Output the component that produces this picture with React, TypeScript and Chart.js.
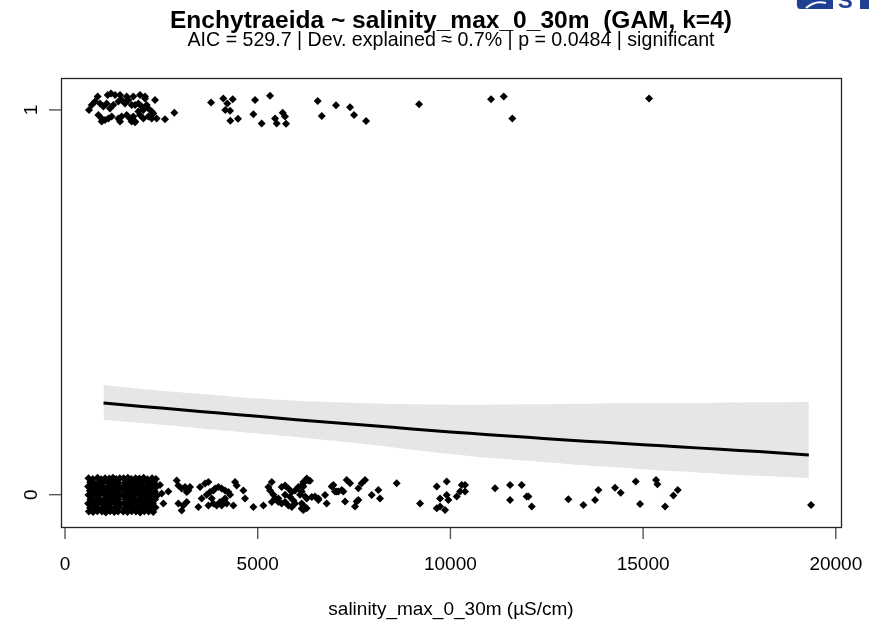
import React, { useEffect, useRef } from 'react';
import { Chart, registerables } from 'chart.js';

Chart.register(...registerables);

const TITLE = 'Enchytraeida ~ salinity_max_0_30m  (GAM, k=4)';
const SUBTITLE = 'AIC = 529.7 | Dev. explained \u2248 0.7% | p = 0.0484 | significant';
const X_LABEL = 'salinity_max_0_30m (\u00b5S/cm)';
const X_TICKS = [0, 5000, 10000, 15000, 20000];
const Y_TICKS = [0, 1];
const X_MIN = -104;
const X_MAX = 20135;
const Y_MIN = -0.084;
const Y_MAX = 1.083;

const curveX = [1000, 2000, 3000, 4000, 5000, 6000, 7000, 8000, 9000, 10000, 11000, 12000, 13000, 14000, 15000, 16000, 17000, 18000, 19300];
const curveFit = [0.238, 0.229, 0.221, 0.212, 0.204, 0.195, 0.187, 0.179, 0.171, 0.163, 0.156, 0.149, 0.142, 0.136, 0.130, 0.124, 0.118, 0.112, 0.103];
const curveLo = [0.194, 0.186, 0.177, 0.168, 0.159, 0.150, 0.140, 0.129, 0.117, 0.106, 0.096, 0.088, 0.080, 0.073, 0.066, 0.060, 0.054, 0.049, 0.043];
const curveHi = [0.285, 0.275, 0.266, 0.258, 0.250, 0.244, 0.240, 0.237, 0.235, 0.234, 0.234, 0.235, 0.236, 0.237, 0.238, 0.238, 0.239, 0.240, 0.241];

const presentPoints: [number, number][] = [
  [848, 1.035], [1107, 1.039], [1194, 1.043], [1298, 1.039], [1427, 1.039], [1600, 1.035], [1773, 1.035], [1946, 1.039], [2076, 1.035], [2076, 1.030],
  [692, 1.013], [623, 1.0], [779, 1.022], [908, 1.017], [995, 1.009], [1081, 1.017], [1168, 1.004], [1254, 1.013], [1384, 1.022], [1471, 1.026],
  [1557, 1.017], [1644, 1.026], [1730, 1.013], [1817, 1.013], [1903, 1.017], [1990, 1.009], [2119, 1.013], [2033, 1.0], [2163, 1.004], [2249, 0.996], [2335, 1.026],
  [865, 0.987], [952, 0.978], [1125, 0.978], [1211, 0.983], [1384, 0.978], [1471, 0.983], [1600, 0.987], [1687, 0.978], [1773, 0.983], [1817, 0.970],
  [1946, 0.987], [2033, 0.978], [2163, 0.983], [2249, 0.978], [2379, 0.978], [2292, 0.991], [1903, 0.996],
  [952, 0.970], [1038, 0.974], [1427, 0.970], [1730, 0.970], [1817, 0.968],
  [2595, 0.976], [2836, 0.993],
  [3789, 1.019], [4108, 1.030], [4351, 1.028], [4212, 1.017], [4160, 1.0], [4282, 0.998], [4290, 0.972], [4489, 0.977],
  [4931, 1.026], [5320, 1.037], [4887, 0.989], [5104, 0.965], [5450, 0.978], [5493, 0.965], [5649, 0.993], [5709, 0.983], [5735, 0.964],
  [6557, 1.023], [6661, 0.984], [7032, 1.012], [7396, 1.007], [7500, 0.987], [7811, 0.971],
  [9186, 1.015], [11055, 1.028], [11384, 1.035], [11607, 0.978], [15155, 1.030],
];

const absentPoints: [number, number][] = [
  [610, 0.043], [720, 0.041], [845, 0.044], [935, 0.040], [1040, 0.043], [1150, 0.042], [1245, 0.044], [1330, 0.041], [1420, 0.043],
  [655, 0.032], [765, 0.030], [880, 0.033], [990, 0.031], [1095, 0.034], [1200, 0.030], [1290, 0.032], [1395, 0.031],
  [600, 0.021], [700, 0.019], [815, 0.022], [940, 0.020], [1025, 0.018], [1130, 0.022], [1250, 0.020], [1350, 0.021], [1430, 0.019],
  [645, 0.010], [770, 0.009], [860, 0.011], [975, 0.008], [1080, 0.012], [1185, 0.010], [1300, 0.009], [1400, 0.011],
  [610, -0.001], [710, 0.001], [830, -0.002], [910, 0.000], [1050, -0.001], [1140, 0.002], [1235, -0.002], [1340, 0.000], [1420, -0.001],
  [660, -0.012], [750, -0.014], [880, -0.011], [1000, -0.013], [1105, -0.012], [1210, -0.010], [1310, -0.014], [1390, -0.012],
  [600, -0.023], [720, -0.021], [825, -0.024], [950, -0.022], [1030, -0.025], [1160, -0.023], [1265, -0.021], [1360, -0.024], [1430, -0.022],
  [650, -0.034], [780, -0.033], [870, -0.036], [990, -0.034], [1090, -0.032], [1195, -0.035], [1290, -0.034], [1400, -0.033],
  [620, -0.044], [730, -0.045], [840, -0.043], [960, -0.044], [1060, -0.046], [1170, -0.043], [1280, -0.045], [1375, -0.044],
  [1520, 0.043], [1630, 0.044], [1720, 0.041], [1830, 0.043], [1930, 0.042], [2040, 0.044], [2140, 0.040], [2260, 0.043], [2360, 0.041],
  [1560, 0.031], [1670, 0.033], [1780, 0.030], [1880, 0.032], [1990, 0.031], [2090, 0.034], [2200, 0.030], [2310, 0.032],
  [1510, 0.020], [1610, 0.022], [1730, 0.019], [1840, 0.021], [1940, 0.020], [2050, 0.018], [2150, 0.022], [2250, 0.020], [2380, 0.021],
  [1550, 0.009], [1660, 0.011], [1770, 0.008], [1890, 0.010], [2000, 0.012], [2100, 0.009], [2210, 0.011], [2330, 0.008],
  [1500, -0.001], [1620, 0.001], [1720, -0.002], [1830, 0.000], [1950, -0.001], [2060, 0.002], [2160, -0.001], [2270, 0.000], [2390, -0.002],
  [1570, -0.012], [1680, -0.013], [1790, -0.011], [1900, -0.014], [2010, -0.012], [2110, -0.010], [2220, -0.013], [2340, -0.012],
  [1520, -0.023], [1630, -0.022], [1740, -0.024], [1850, -0.021], [1960, -0.023], [2070, -0.025], [2170, -0.022], [2280, -0.023],
  [1560, -0.034], [1670, -0.033], [1790, -0.035], [1890, -0.034], [2000, -0.032], [2120, -0.035], [2230, -0.034], [2350, -0.033],
  [1510, -0.044], [1620, -0.045], [1730, -0.043], [1840, -0.044], [1950, -0.046], [2060, -0.043], [2170, -0.044], [2290, -0.045],
  [2465, 0.025], [2508, 0.003], [2552, -0.023], [2681, 0.008],
  [2898, 0.037], [2942, 0.024], [3028, 0.016], [3115, 0.020], [3158, 0.007], [3201, 0.011], [3244, 0.020],
  [2942, -0.023], [3071, -0.028], [3158, -0.019], [3028, -0.041],
  [3504, 0.020], [3634, 0.029], [3720, 0.033], [3547, -0.010], [3677, 0.0], [3763, 0.007], [3850, 0.011], [3893, 0.016], [3980, 0.020],
  [4066, 0.016], [4153, 0.011], [4239, 0.007], [4282, 0.0], [3807, -0.010], [3850, -0.023], [3936, -0.028], [4023, -0.019], [4109, -0.015],
  [4153, -0.010], [4196, -0.023], [3461, -0.032], [3720, -0.028], [4066, -0.028], [4369, -0.028], [4412, 0.033], [4455, 0.024], [4628, 0.011],
  [4671, -0.010], [4888, -0.032], [5147, -0.028], [5277, 0.020], [5320, 0.011], [5364, 0.033], [5407, 0.0], [5450, -0.010], [5537, -0.019],
  [5623, 0.020], [5710, 0.024], [5796, 0.016], [5883, 0.007], [5969, 0.011], [6056, 0.020], [6142, 0.024], [6185, 0.033], [6272, 0.042],
  [6315, 0.037], [5537, -0.010], [5623, -0.023], [5710, -0.019], [5796, -0.028], [5883, -0.032], [5969, -0.023], [5364, -0.019], [5710, 0.0],
  [5839, -0.006], [5926, -0.015], [6099, 0.0], [6142, -0.036], [6272, -0.010], [6402, -0.006], [6575, -0.010], [6185, -0.028],
  [6228, 0.034], [6357, 0.036], [6185, 0.021], [6141, 0.008], [6228, -0.005], [6185, -0.040], [6271, -0.035], [6141, -0.023],
  [6487, -0.005], [6574, -0.014], [6747, -0.001], [6790, -0.023], [6920, 0.021], [6963, 0.025], [7006, 0.008], [7049, 0.008],
  [7093, 0.008], [7179, 0.012], [7223, 0.008], [7266, -0.018], [7309, 0.038], [7396, 0.030], [7612, 0.017], [7569, -0.018], [7612, -0.014],
  [7525, -0.031], [7698, 0.030], [7785, 0.038], [7958, -0.001], [8131, 0.012], [8174, -0.010], [8607, 0.030], [9212, -0.023],
  [9645, 0.021], [9904, 0.034], [9731, -0.010], [9904, -0.001], [9947, -0.014], [9645, -0.035], [9731, -0.031], [9861, -0.040],
  [10164, -0.005], [10250, 0.008], [10294, 0.025], [10380, 0.025], [10380, 0.008], [11158, 0.017], [11548, 0.025], [11850, 0.025],
  [11548, -0.014], [11980, -0.005], [12024, -0.005], [12110, -0.031], [13061, -0.012], [13451, -0.027], [13754, -0.014], [13840, 0.012],
  [14272, 0.018], [14419, 0.005], [14809, 0.034], [14921, -0.024], [15336, 0.038], [15371, 0.027], [15570, -0.031], [15786, -0.002],
  [15899, 0.012], [19358, -0.027],
];

const FONT = '"Liberation Sans", Arial, Helvetica, sans-serif';

const axesPlugin = {
  id: 'rBaseAxes',
  afterDraw(chart: any) {
    const ctx = chart.ctx as CanvasRenderingContext2D;
    const area = chart.chartArea;
    const xs = chart.scales.x;
    const ys = chart.scales.y;
    ctx.save();
    ctx.strokeStyle = '#222';
    ctx.lineWidth = 1.3;
    ctx.strokeRect(area.left + 0.5, area.top + 0.5, area.right - area.left, area.bottom - area.top);
    ctx.strokeStyle = '#555';
    ctx.lineWidth = 1.4;
    ctx.fillStyle = '#000';
    ctx.font = `19px ${FONT}`;
    ctx.textAlign = 'center';
    ctx.textBaseline = 'alphabetic';
    X_TICKS.forEach((v) => {
      const px = xs.getPixelForValue(v);
      ctx.beginPath();
      ctx.moveTo(px, area.bottom + 1);
      ctx.lineTo(px, area.bottom + 12);
      ctx.stroke();
      ctx.fillText(String(v), px, 570);
    });
    Y_TICKS.forEach((v) => {
      const py = ys.getPixelForValue(v);
      ctx.beginPath();
      ctx.moveTo(area.left, py);
      ctx.lineTo(area.left - 12, py);
      ctx.stroke();
      ctx.save();
      ctx.translate(37, py);
      ctx.rotate(-Math.PI / 2);
      ctx.fillText(String(v), 0, 0);
      ctx.restore();
    });
    const cx = (area.left + area.right) / 2;
    ctx.font = `19px ${FONT}`;
    ctx.fillText(X_LABEL, cx, 615);
    const fit = (text: string, y: number, target: number) => {
      const w = ctx.measureText(text).width;
      ctx.save();
      ctx.translate(cx, y);
      ctx.scale(target / w, 1);
      ctx.fillText(text, 0, 0);
      ctx.restore();
    };
    ctx.font = `bold 23.5px ${FONT}`;
    fit(TITLE, 28, 562);
    ctx.font = `21px ${FONT}`;
    fit(SUBTITLE, 46, 527);
    ctx.fillStyle = '#1f3f93';
    ctx.beginPath();
    ctx.moveTo(797, 0);
    ctx.lineTo(833, 0);
    ctx.lineTo(833, 9);
    ctx.lineTo(800, 9);
    ctx.quadraticCurveTo(796, 9, 797, 0);
    ctx.fill();
    ctx.strokeStyle = '#fff';
    ctx.lineWidth = 2;
    ctx.beginPath();
    ctx.moveTo(806, 8);
    ctx.quadraticCurveTo(815, 0, 826, 3);
    ctx.stroke();
    ctx.font = `bold 22px ${FONT}`;
    ctx.textAlign = 'left';
    ctx.fillText('S', 838, 8);
    ctx.fillRect(860, 0, 9, 9);
    ctx.restore();
  },
};

export default function App() {
  const ref = useRef<HTMLCanvasElement | null>(null);
  useEffect(() => {
    if (!ref.current) return;
    const line = (ys: number[]) => curveX.map((x, i) => ({ x, y: ys[i] }));
    const chart = new Chart(ref.current, {
      type: 'scatter',
      data: {
        datasets: [
          {
            type: 'line',
            order: 4,
            data: line(curveLo),
            showLine: true,
            borderWidth: 0,
            borderColor: 'rgba(0,0,0,0)',
            pointRadius: 0,
            fill: false,
            tension: 0.3,
          } as any,
          {
            type: 'line',
            order: 3,
            data: line(curveHi),
            showLine: true,
            borderWidth: 0,
            borderColor: 'rgba(0,0,0,0)',
            backgroundColor: '#e6e6e6',
            pointRadius: 0,
            fill: '-1',
            tension: 0.3,
          } as any,
          {
            order: 2,
            data: absentPoints.map(([x, y]) => ({ x, y })),
            pointStyle: 'rectRot',
            pointRadius: 4,
            borderWidth: 0,
            backgroundColor: '#000',
            borderColor: '#000',
          },
          {
            order: 1,
            data: presentPoints.map(([x, y]) => ({ x, y })),
            pointStyle: 'rectRot',
            pointRadius: 4,
            borderWidth: 0,
            backgroundColor: '#000',
            borderColor: '#000',
          },
          {
            type: 'line',
            order: 0,
            data: line(curveFit),
            showLine: true,
            borderWidth: 3,
            borderColor: '#000',
            backgroundColor: '#000',
            pointRadius: 0,
            fill: false,
            tension: 0.3,
          } as any,
        ],
      },
      options: {
        animation: false,
        responsive: false,
        devicePixelRatio: 1,
        layout: { padding: { left: 61, top: 78, right: 28, bottom: 96 } },
        plugins: { legend: { display: false }, tooltip: { enabled: false }, title: { display: false } },
        scales: {
          x: { type: 'linear', min: X_MIN, max: X_MAX, display: false },
          y: { type: 'linear', min: Y_MIN, max: Y_MAX, display: false },
        },
      },
      plugins: [axesPlugin],
    });
    return () => chart.destroy();
  }, []);
  return (
    <div style={{ position: 'absolute', left: 0, top: 0, width: 869, height: 623, background: '#fff' }}>
      <canvas ref={ref} width={869} height={623} style={{ display: 'block' }} />
    </div>
  );
}
